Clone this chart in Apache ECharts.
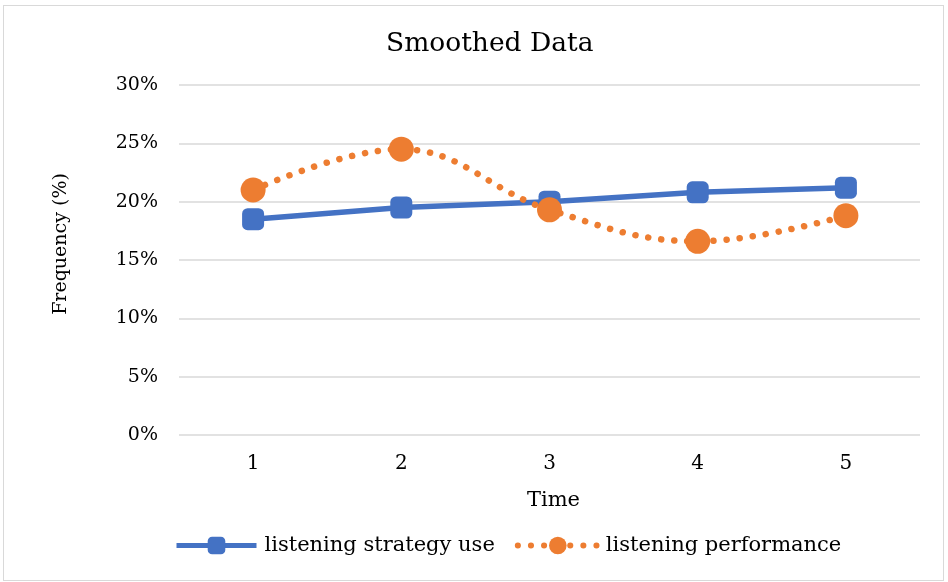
<!DOCTYPE html>
<html><head><meta charset="utf-8">
<script src="https://cdn.jsdelivr.net/npm/echarts@6/dist/echarts.min.js"></script>
<style>
html,body{margin:0;padding:0;background:#fff;}
#frame{position:absolute;left:3px;top:5px;width:941px;height:576px;border:1px solid #d9d9d9;box-sizing:border-box;}
#c{position:absolute;left:0;top:0;width:948px;height:582px;}
</style></head>
<body><div id="frame"></div><div id="c"></div>
<script>
const categories = ['1','2','3','4','5'];
const strategyUse = [18.5, 19.5, 20.0, 20.8, 21.2];
const performance = [21.0, 24.5, 19.3, 16.6, 18.8];
const yTicks = [0,5,10,15,20,25,30];
const font = '"DejaVu Serif", "Liberation Serif", serif';
const chart = echarts.init(document.getElementById('c'));
chart.setOption({
  animation:false,
  title:{text:'Smoothed Data',left:381,top:26,textStyle:{fontFamily:font,fontWeight:'normal',fontSize:26.5,color:'#000'}},
  grid:{left:179,right:28,top:85,bottom:147},
  legend:{bottom:21,left:169,itemWidth:80,itemHeight:22,itemGap:20,
    textStyle:{fontFamily:font,fontSize:21,color:'#000',padding:[0,0,0,3]},
    data:[{name:'listening strategy use',lineStyle:{width:5}},{name:'listening performance',lineStyle:{width:6}}]},
  xAxis:{type:'category',data:categories,boundaryGap:true,
    name:'Time',nameLocation:'middle',nameGap:55,nameTextStyle:{fontFamily:font,fontSize:21,color:'#000',padding:[0,0,0,8]},
    axisLine:{show:false},axisTick:{show:false},
    axisLabel:{fontFamily:font,fontSize:20,color:'#000',margin:19}},
  yAxis:{type:'value',min:yTicks[0],max:yTicks[yTicks.length-1],interval:5,
    name:'Frequency (%)',nameLocation:'middle',nameGap:108,nameRotate:90,
    nameTextStyle:{fontFamily:font,fontSize:19,color:'#000',padding:[0,0,0,32]},
    axisLabel:{formatter:'{value}%',fontFamily:font,fontSize:19,color:'#000',margin:21},
    splitLine:{lineStyle:{color:'#d9d9d9',width:1.5}},axisLine:{show:false},axisTick:{show:false}},
  series:[
    {name:'listening strategy use',type:'line',data:strategyUse,symbol:'roundRect',symbolSize:22,
     itemStyle:{color:'#4472c4'},lineStyle:{color:'#4472c4',width:5.5}},
    {name:'listening performance',type:'line',data:performance,smooth:0.4,symbol:'circle',symbolSize:25,
     itemStyle:{color:'#ed7d31'},lineStyle:{color:'#ed7d31',width:6.5,type:[0.1,13],cap:'round'}}
  ]
});
</script></body></html>
